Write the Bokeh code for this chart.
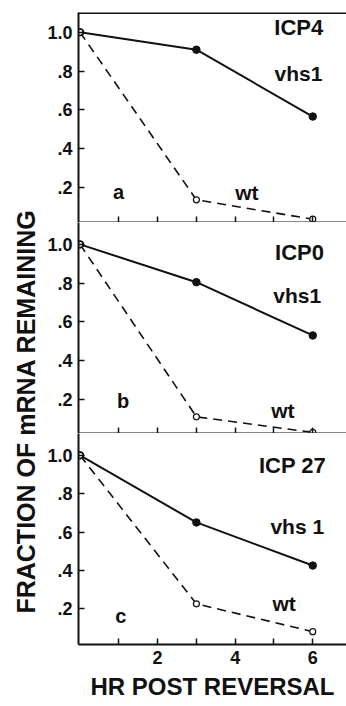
from bokeh.plotting import figure
from bokeh.layouts import column, row
from bokeh.models import Range1d, FixedTicker, Label, Span
from bokeh.embed import file_html
from bokeh.resources import INLINE

# ---------------- data ----------------
HOURS = [0, 3, 6]
ICP4_VHS1 = [1.0, 0.91, 0.565]
ICP4_WT = [1.0, 0.135, 0.035]
ICP0_VHS1 = [1.0, 0.805, 0.53]
ICP0_WT = [1.0, 0.11, 0.03]
ICP27_VHS1 = [1.0, 0.65, 0.425]
ICP27_WT = [1.0, 0.225, 0.08]

GENE_LABELS = ["ICP4", "ICP0", "ICP 27"]
MUTANT_LABELS = ["vhs1", "vhs1", "vhs 1"]
WT_LABEL = "wt"
PANEL_TAGS = ["a", "b", "c"]

X_TICKS = [2, 4, 6]
X_TICK_LABELS = ["2", "4", "6"]
X_MINOR_TICKS = [1, 3, 5]
Y_TICKS = [0.2, 0.4, 0.6, 0.8, 1.0]
Y_TICK_LABELS = [".2", ".4", ".6", ".8", "1.0"]

X_LABEL = "HR POST REVERSAL"
Y_LABEL = "FRACTION OF mRNA REMAINING"

FONT = "Liberation Sans"
INK = "#111111"


def make_panel(vhs, wt, yr, fh, top_border, gene, mutant, tag, pos, last):
    p = figure(frame_width=268, frame_height=fh,
               x_range=Range1d(-0.04, 6.87), y_range=Range1d(*yr),
               output_backend="svg", toolbar_location=None,
               min_border_left=36, min_border_right=0,
               min_border_top=top_border, min_border_bottom=0)
    p.outline_line_color = None
    p.grid.visible = False
    p.background_fill_color = "white"
    p.border_fill_color = "white"

    for ax in (p.xaxis[0], p.yaxis[0]):
        ax.axis_line_width = 2
        ax.axis_line_color = INK
        ax.major_tick_line_width = 1.5
        ax.major_tick_line_color = INK
        ax.major_tick_in = 6
        ax.major_tick_out = 0
        ax.minor_tick_line_width = 1.5
        ax.minor_tick_line_color = INK
        ax.minor_tick_in = 6
        ax.minor_tick_out = 0
        ax.major_label_text_font = FONT
        ax.major_label_text_font_style = "bold"
        ax.major_label_text_color = INK

    p.yaxis.ticker = FixedTicker(ticks=Y_TICKS, minor_ticks=[])
    p.yaxis.major_label_overrides = dict(zip(Y_TICKS, Y_TICK_LABELS))
    p.yaxis.major_label_text_font_size = "18px"
    p.yaxis.major_label_standoff = 6

    if last:
        xa = p.xaxis[0]
        xa.ticker = FixedTicker(ticks=X_TICKS, minor_ticks=X_MINOR_TICKS)
        xa.major_label_overrides = dict(zip(X_TICKS, X_TICK_LABELS))
        xa.major_label_text_font_size = "18px"
        xa.major_label_standoff = 6
        xa.axis_label = X_LABEL
        xa.axis_label_text_font = FONT
        xa.axis_label_text_font_style = "bold"
        xa.axis_label_text_font_size = "24px"
        xa.axis_label_text_color = INK
        xa.axis_label_standoff = 6
    else:
        # ticks only, no labels: all positions drawn as minor ticks
        p.xaxis.ticker = FixedTicker(ticks=[],
                                     minor_ticks=X_MINOR_TICKS + X_TICKS)
        p.xaxis.major_label_standoff = 0

    if top_border > 0:
        p.add_layout(Span(location=yr[1], dimension="width",
                          line_color=INK, line_width=3))

    p.line(HOURS, wt, line_color=INK, line_width=1.6, line_dash="9 6")
    p.line(HOURS, vhs, line_color=INK, line_width=2.0)
    p.scatter(HOURS, vhs, size=7.5, fill_color=INK, line_color=INK)
    p.scatter(HOURS, wt, size=6, fill_color="white", line_color=INK,
              line_width=1.2)

    texts = [(gene, pos[0], "22px"), (mutant, pos[1], "21px"),
             (tag, pos[2], "20px"), (WT_LABEL, pos[3], "21px")]
    for t, (x, y), fs in texts:
        p.add_layout(Label(x=x, y=y, text=t, text_font=FONT,
                           text_font_style="bold", text_font_size=fs,
                           text_color=INK, text_align="center",
                           text_baseline="middle"))
    return p


p1 = make_panel(ICP4_VHS1, ICP4_WT, (0.018, 1.102), 210, 12,
                GENE_LABELS[0], MUTANT_LABELS[0], PANEL_TAGS[0],
                [(5.64, 1.024), (5.63, 0.787), (0.99, 0.175), (4.3, 0.175)],
                False)
p2 = make_panel(ICP0_VHS1, ICP0_WT, (0.024, 1.113), 211, 0,
                GENE_LABELS[1], MUTANT_LABELS[1], PANEL_TAGS[1],
                [(5.66, 0.96), (5.6, 0.737), (1.11, 0.19), (5.23, 0.143)],
                False)
p3 = make_panel(ICP27_VHS1, ICP27_WT, (0.013, 1.114), 211, 0,
                GENE_LABELS[2], MUTANT_LABELS[2], PANEL_TAGS[2],
                [(5.48, 0.948), (5.6, 0.631), (1.05, 0.164), (5.26, 0.229)],
                True)

LAB_H = 700
lab = figure(width=42, height=LAB_H, x_range=Range1d(0, 1),
             y_range=Range1d(0, 1), output_backend="svg",
             toolbar_location=None, min_border=0)
lab.axis.visible = False
lab.grid.visible = False
lab.outline_line_color = None
lab.add_layout(Label(x=25.5 / 42, y=1 - 411 / LAB_H, text=Y_LABEL,
                     angle=1.5707963, text_font=FONT,
                     text_font_style="bold", text_font_size="25px",
                     text_color=INK, text_align="center",
                     text_baseline="middle"))

layout = row(lab, column(p1, p2, p3, spacing=0), spacing=0)

open("out.html", "w").write(file_html(layout, INLINE))
